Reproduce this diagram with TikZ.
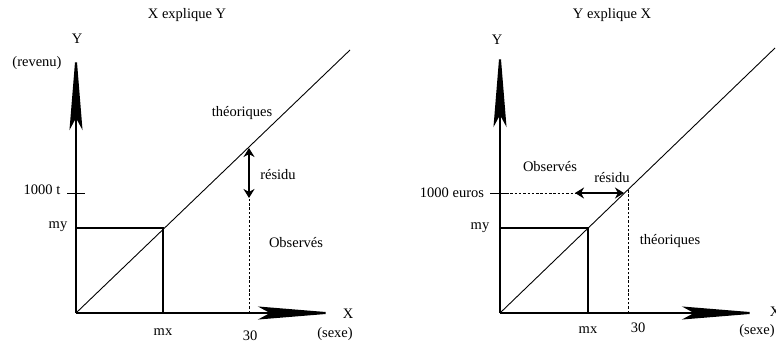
\documentclass[tikz,border=0pt]{standalone}
\usepackage{fontspec}
\setmainfont{Liberation Serif}
\usetikzlibrary{arrows.meta}
\begin{document}
\begin{tikzpicture}[x=1pt,y=-1pt,
  axis/.style={line width=2pt,-{Stealth[length=80pt,width=13pt,inset=12pt]}},
  boxline/.style={line width=2pt},
  regline/.style={line width=0.9pt},
  dotline/.style={line width=0.9pt,dash pattern=on 2.5pt off 1.8pt},
  resid/.style={line width=2pt,{Stealth[length=9pt,width=11pt]}-{Stealth[length=9pt,width=11pt]}},
  lbl/.style={font=\fontsize{14.5}{16}\selectfont,inner sep=0pt}]
\useasboundingbox (0,0) rectangle (776,343);
% ---------- left panel ----------
\coordinate (O1) at (76,313);
\coordinate (Y1) at (76,50);
\coordinate (X1) at (338,313);
\coordinate (D1) at (350,50);
\coordinate (MX1) at (163,313);
\coordinate (M1) at (163,228);
\coordinate (MY1) at (76,228);
\coordinate (T1a) at (67,193);
\coordinate (T1b) at (85,193);
\coordinate (R1t) at (249,148);
\coordinate (R1b) at (249,198);
\coordinate (B1) at (249,313);
\draw[regline] (O1) -- (D1);
\draw[boxline] (MY1) -- (M1) -- (MX1);
\draw[regline] (T1a) -- (T1b);
\draw[dotline] (B1) -- (R1b);
\draw[resid] (R1t) -- (R1b);
\draw[axis] (O1) -- (Y1);
\draw[axis] (O1) -- (X1);
\node[lbl] (t1) at (187,15) {X explique Y};
\node[lbl] (y1) at (77,39) {Y};
\node[lbl] (rev) at (37,63) {(revenu)};
\node[lbl] (k1) at (42,190) {1000 t};
\node[lbl] (my1) at (58,227) {my};
\node[lbl] (mx1) at (163,332) {mx};
\node[lbl] (n30a) at (250,336) {30};
\node[lbl] (x1) at (348,314) {X};
\node[lbl] (sx1) at (335,334) {(sexe)};
\node[lbl] (th1) at (242,113) {théoriques};
\node[lbl] (rs1) at (278,175) {résidu};
\node[lbl] (ob1) at (296,243) {Observés};
% ---------- right panel ----------
\coordinate (O2) at (500,313);
\coordinate (Y2) at (500,47);
\coordinate (X2) at (762,313);
\coordinate (D2) at (775,48);
\coordinate (MX2) at (588,313);
\coordinate (M2) at (588,228);
\coordinate (MY2) at (500,228);
\coordinate (T2a) at (490,193);
\coordinate (T2b) at (506,193);
\coordinate (H2) at (575,193);
\coordinate (P2) at (624,193);
\coordinate (B2) at (628,313);
\coordinate (V2) at (628,190);
\draw[regline] (O2) -- (D2);
\draw[boxline] (MY2) -- (M2) -- (MX2);
\draw[regline] (T2a) -- (T2b);
\draw[dotline] (T2b) -- (H2);
\draw[dotline] (B2) -- (V2);
\draw[resid] (H2) -- (P2);
\draw[axis] (O2) -- (Y2);
\draw[axis] (O2) -- (X2);
\node[lbl] (t2) at (612,15) {Y explique X};
\node[lbl] (y2) at (497,40) {Y};
\node[lbl] (k2) at (452,193) {1000 euros};
\node[lbl] (my2) at (480,228) {my};
\node[lbl] (mx2) at (588,330) {mx};
\node[lbl] (n30b) at (638,328) {30};
\node[lbl] (x2) at (775,312) {X};
\node[lbl] (sx2) at (757,331) {(sexe)};
\node[lbl] (ob2) at (550,167) {Observés};
\node[lbl] (rs2) at (612,178) {résidu};
\node[lbl] (th2) at (670,241) {théoriques};
\end{tikzpicture}
\end{document}
